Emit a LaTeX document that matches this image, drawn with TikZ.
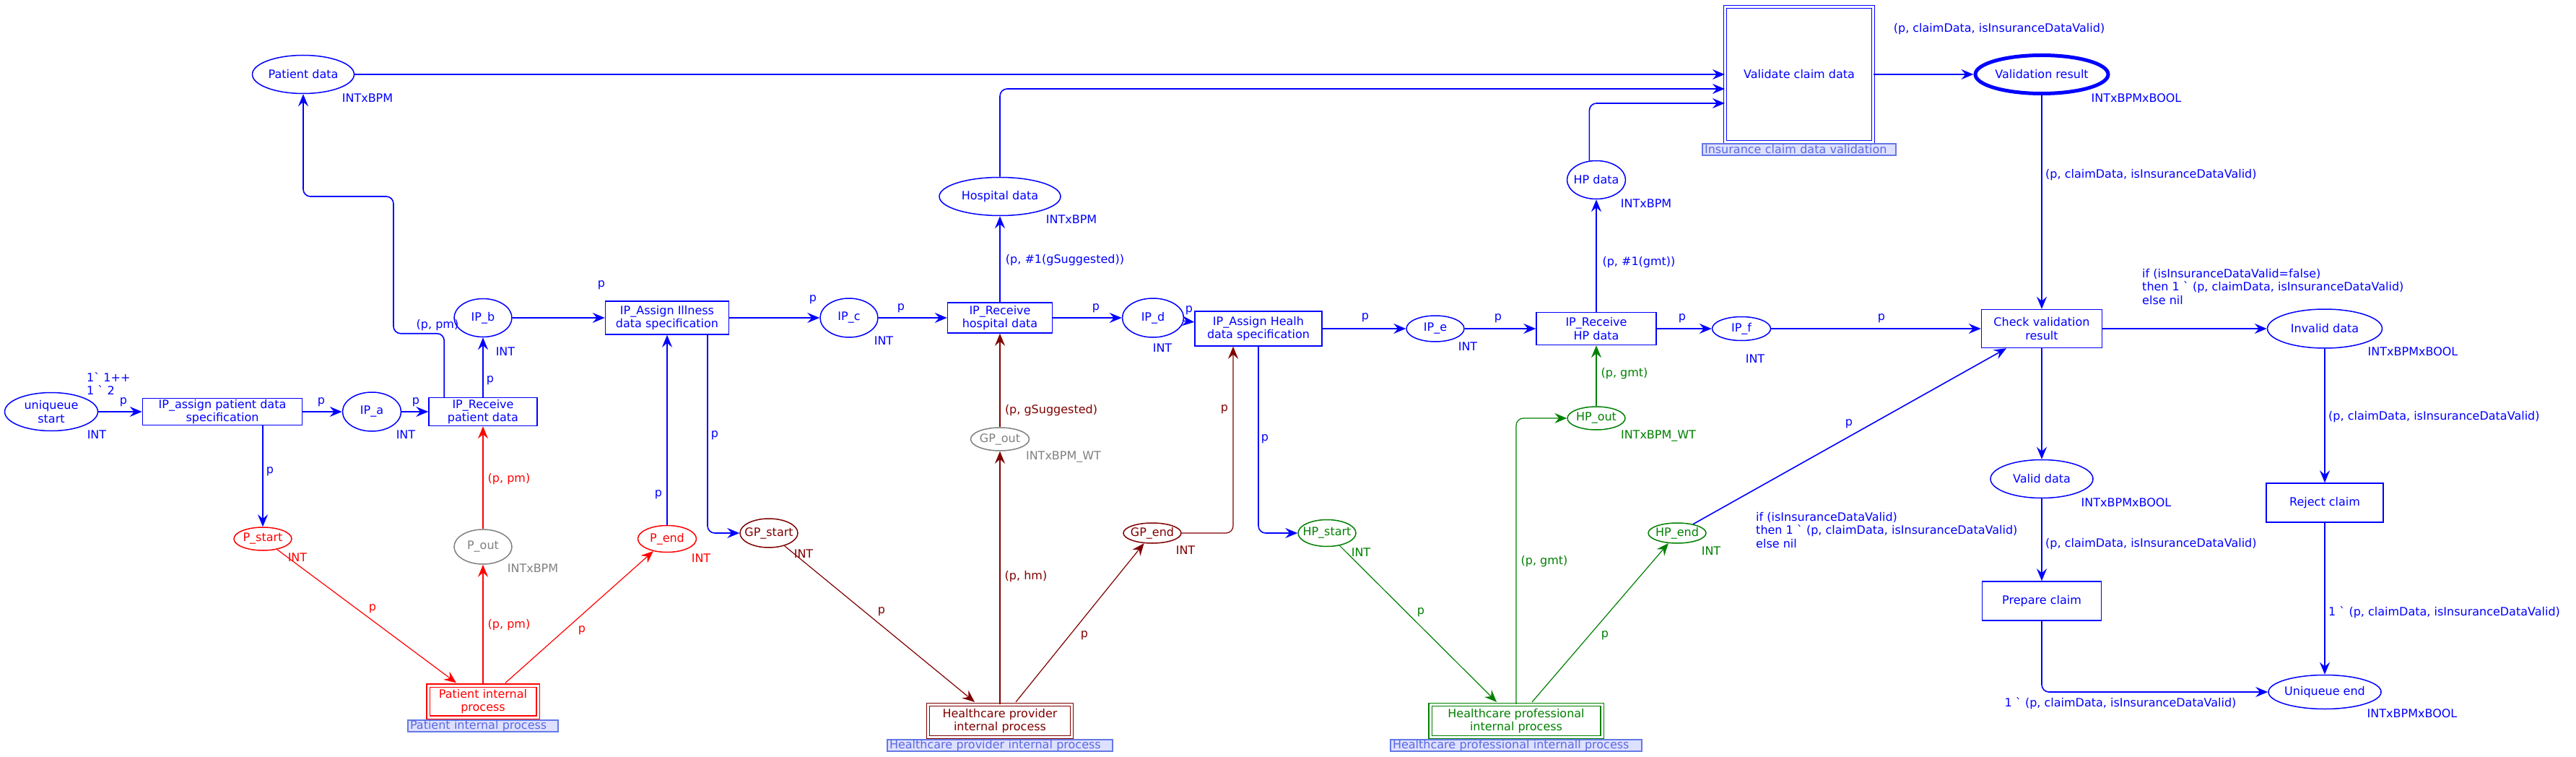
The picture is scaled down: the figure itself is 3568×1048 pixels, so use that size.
\documentclass[tikz,border=0pt]{standalone}
\usepackage{fontspec}
\setmainfont[Ligatures=TeXOff]{DejaVu Sans}
\usepackage{tikz}
\usepackage{xcolor}
\usetikzlibrary{shapes.geometric, arrows.meta}

\definecolor{cpnblue}{RGB}{0,0,255}
\definecolor{cpnred}{RGB}{255,0,0}
\definecolor{cpnmaroon}{RGB}{128,0,0}
\definecolor{cpngreen}{RGB}{0,128,0}
\definecolor{cpngray}{RGB}{128,128,128}
\definecolor{tagfill}{RGB}{222,224,255}
\definecolor{tagline}{RGB}{100,120,230}
\definecolor{tagtext}{RGB}{90,105,225}

\begin{document}
\begin{tikzpicture}[x=1pt, y=-1pt,
    font=\fontsize{16}{18.5}\selectfont,
    >={Stealth[length=17pt, width=14pt, inset=6pt]},
    place/.style={ellipse, draw, line width=1.5pt, inner xsep=-15pt, inner ysep=0pt, align=center},
    trans/.style={rectangle, draw, line width=1.5pt, inner sep=0pt, align=center},
    subst/.style={trans, line width=1.2pt, double, double distance=3pt},
    tag/.style={rectangle, draw=tagline, fill=tagfill, text=tagtext, line width=1.2pt, inner xsep=3pt, inner ysep=0pt, minimum height=16pt, align=left},
    inblue/.style={draw=cpnblue, text=cpnblue},
    inred/.style={draw=cpnred, text=cpnred},
    inmaroon/.style={draw=cpnmaroon, text=cpnmaroon},
    ingreen/.style={draw=cpngreen, text=cpngreen},
    ingray/.style={draw=cpngray, text=cpngray},
    lbl/.style={inner sep=0pt, text=cpnblue},
    arc/.style={->, line width=1.6pt},
    thinarc/.style={->, line width=1.2pt}]
    \fill[white] (0,0) rectangle (3568,1048);
    \useasboundingbox (0,0) rectangle (3568,1048);

    % Patient part
    \node[place, inblue, minimum width=129pt, minimum height=53pt] (ustart) at (71,570) {uniqueue\\start};
    \node[trans, inblue, minimum width=221pt, minimum height=37pt] (tassign) at (308,570) {IP\_assign patient data\\specification};
    \node[place, inblue, minimum width=81pt, minimum height=54pt] (ipa) at (515,570) {IP\_a};
    \node[trans, inblue, minimum width=150pt, minimum height=39pt] (trecvpat) at (669,570) {IP\_Receive\\patient data};
    \node[place, inblue, minimum width=80pt, minimum height=53pt] (ipb) at (669,440) {IP\_b};
    \node[place, inblue, minimum width=141pt, minimum height=53pt] (patdata) at (420,103) {Patient data};
    \node[place, inred, minimum width=80pt, minimum height=32pt] (pstart) at (364,746) {P\_start};
    \node[place, ingray, minimum width=80pt, minimum height=48pt] (pout) at (669,757) {P\_out};
    \node[place, inred, minimum width=81pt, minimum height=37pt] (pend) at (924,746) {P\_end};
    \node[subst, inred, minimum width=152pt, minimum height=44pt] (spip) at (669,971) {Patient internal\\process};
    \node[tag, text width=202pt] (tagpip) at (669,1005) {Patient internal process};

    % Healthcare provider part
    \node[trans, inblue, minimum width=171pt, minimum height=46pt] (tillness) at (924,440) {IP\_Assign Illness\\data specification};
    \node[place, inblue, minimum width=80pt, minimum height=54pt] (ipc) at (1176,440) {IP\_c};
    \node[trans, inblue, minimum width=145pt, minimum height=42pt] (trecvhosp) at (1385,440) {IP\_Receive\\hospital data};
    \node[place, inblue, minimum width=85pt, minimum height=54pt] (ipd) at (1597,440) {IP\_d};
    \node[place, inblue, minimum width=168pt, minimum height=53pt] (hospdata) at (1385,272) {Hospital data};
    \node[place, inmaroon, minimum width=80pt, minimum height=40pt] (gpstart) at (1065,738) {GP\_start};
    \node[place, ingray, minimum width=81pt, minimum height=32pt] (gpout) at (1385,608) {GP\_out};
    \node[place, inmaroon, minimum width=80pt, minimum height=28pt] (gpend) at (1596,738) {GP\_end};
    \node[subst, inmaroon, minimum width=199pt, minimum height=45pt] (shpip) at (1385,998) {Healthcare provider\\internal process};
    \node[tag, text width=306pt] (taghpip) at (1385,1032) {Healthcare provider internal process};

    % Healthcare professional part
    \node[trans, inblue, minimum width=176pt, minimum height=48pt] (thealh) at (1743,455) {IP\_Assign Healh\\data specification};
    \node[place, inblue, minimum width=80pt, minimum height=36pt] (ipe) at (1988,455) {IP\_e};
    \node[trans, inblue, minimum width=166pt, minimum height=45pt] (trecvhp) at (2211,455) {IP\_Receive\\HP data};
    \node[place, inblue, minimum width=81pt, minimum height=53pt] (hpdata) at (2211,249) {HP data};
    \node[place, ingreen, minimum width=80pt, minimum height=37pt] (hpstart) at (1838,738) {HP\_start};
    \node[place, ingreen, minimum width=80pt, minimum height=32pt] (hpout) at (2211,579) {HP\_out};
    \node[place, ingreen, minimum width=80pt, minimum height=28pt] (hpend) at (2323,738) {HP\_end};
    \node[subst, ingreen, minimum width=238pt, minimum height=45pt] (shppip) at (2100,998) {Healthcare professional\\internal process};
    \node[tag, text width=342pt] (tagshppip) at (2100,1032) {Healthcare professional internall process};

    % Insurance part
    \node[place, inblue, minimum width=81pt, minimum height=33pt] (ipf) at (2412,455) {IP\_f};
    \node[subst, inblue, minimum width=205pt, minimum height=187pt] (svalidate) at (2492,103) {Validate claim data};
    \node[tag, text width=262pt] (tagval) at (2492,207) {Insurance claim data validation};
    \node[place, inblue, line width=5pt, minimum width=184pt, minimum height=53pt] (valres) at (2828,103) {Validation result};
    \node[trans, inblue, minimum width=167pt, minimum height=53pt] (tcheck) at (2828,455) {Check validation\\result};
    \node[place, inblue, minimum width=159pt, minimum height=54pt] (invalid) at (3220,455) {Invalid data};
    \node[place, inblue, minimum width=142pt, minimum height=53pt] (valid) at (2828,663) {Valid data};
    \node[trans, inblue, minimum width=165pt, minimum height=54pt] (tprepare) at (2828,832) {Prepare claim};
    \node[trans, inblue, minimum width=162pt, minimum height=54pt] (treject) at (3220,696) {Reject claim};
    \node[place, inblue, minimum width=156pt, minimum height=47pt] (uend) at (3220,958) {Uniqueue end};

    % inscriptions
    \node[lbl, anchor=west, align=left] (mk) at (120,531) {1` 1++\\1 ` 2};
    \node[lbl] (i01) at (171,557) {p};
    \node[lbl] (i02) at (134,602) {INT};
    \node[lbl] (i03) at (445,557) {p};
    \node[lbl] (i04) at (562,602) {INT};
    \node[lbl] (i05) at (576,557) {p};
    \node[lbl] (i06) at (679,527) {p};
    \node[lbl] (i07) at (700,487) {INT};
    \node[lbl] (i08) at (606,450) {(p, pm)};
    \node[lbl] (i09) at (509,136) {INTxBPM};
    \node[lbl] (i10) at (374,653) {p};
    \node[lbl] (i11) at (833,395) {p};
    \node[lbl] (i12) at (912,685) {p};
    \node[lbl] (i13) at (990,603) {p};
    \node[lbl] (i14) at (1126,415) {p};
    \node[lbl] (i15) at (1224,472) {INT};
    \node[lbl] (i16) at (1248,427) {p};
    \node[lbl] (i17) at (1518,427) {p};
    \node[lbl] (i18) at (1610,482) {INT};
    \node[lbl] (i19) at (1475,360) {(p, \#1(gSuggested))};
    \node[lbl] (i20) at (1484,304) {INTxBPM};
    \node[lbl] (i21) at (1647,430) {p};
    \node[lbl] (i22) at (1891,440) {p};
    \node[lbl] (i23) at (2033,480) {INT};
    \node[lbl] (i24) at (2075,441) {p};
    \node[lbl] (i25) at (2330,441) {p};
    \node[lbl] (i26) at (1752,608) {p};
    \node[lbl] (i27) at (2270,363) {(p, \#1(gmt))};
    \node[lbl] (i28) at (2280,282) {INTxBPM};
    \node[lbl] (i29) at (2606,441) {p};
    \node[lbl] (i30) at (2431,497) {INT};
    \node[lbl] (i31) at (2561,587) {p};
    \node[lbl] (i32) at (2769,40) {(p, claimData, isInsuranceDataValid)};
    \node[lbl] (i33) at (2959,136) {INTxBPMxBOOL};
    \node[lbl, anchor=west] (i34) at (2833,242) {(p, claimData, isInsuranceDataValid)};
    \node[lbl, anchor=west, align=left] (i35) at (2967,397) {if (isInsuranceDataValid=false)\\then 1 ` (p, claimData, isInsuranceDataValid)\\else nil};
    \node[lbl] (i36) at (3342,487) {INTxBPMxBOOL};
    \node[lbl, anchor=west] (i37) at (3225,577) {(p, claimData, isInsuranceDataValid)};
    \node[lbl, anchor=west] (i38) at (3225,848) {1 ` (p, claimData, isInsuranceDataValid)};
    \node[lbl] (i39) at (3341,988) {INTxBPMxBOOL};
    \node[lbl] (i40) at (2945,696) {INTxBPMxBOOL};
    \node[lbl, anchor=west] (i41) at (2833,753) {(p, claimData, isInsuranceDataValid)};
    \node[lbl] (i42) at (2937,974) {1 ` (p, claimData, isInsuranceDataValid)};
    \node[lbl, anchor=west, align=left] (i43) at (2432,734) {if (isInsuranceDataValid)\\then 1 ` (p, claimData, isInsuranceDataValid)\\else nil};
    \node[lbl, text=cpnred] (r01) at (705,663) {(p, pm)};
    \node[lbl, text=cpnred] (r02) at (412,772) {INT};
    \node[lbl, text=cpnred] (r03) at (516,843) {p};
    \node[lbl, text=cpnred] (r04) at (705,865) {(p, pm)};
    \node[lbl, text=cpnred] (r05) at (971,773) {INT};
    \node[lbl, text=cpnred] (r06) at (806,873) {p};
    \node[lbl, text=cpngray] (g01) at (738,787) {INTxBPM};
    \node[lbl, text=cpngray] (g02) at (1473,633) {INTxBPM\_WT};
    \node[lbl, text=cpnmaroon] (m01) at (1456,568) {(p, gSuggested)};
    \node[lbl, text=cpnmaroon] (m02) at (1113,767) {INT};
    \node[lbl, text=cpnmaroon] (m03) at (1221,847) {p};
    \node[lbl, text=cpnmaroon] (m04) at (1421,798) {(p, hm)};
    \node[lbl, text=cpnmaroon] (m05) at (1502,880) {p};
    \node[lbl, text=cpnmaroon] (m06) at (1642,762) {INT};
    \node[lbl, text=cpnmaroon] (m07) at (1696,567) {p};
    \node[lbl, text=cpngreen] (e01) at (1885,765) {INT};
    \node[lbl, text=cpngreen] (e02) at (1968,848) {p};
    \node[lbl, text=cpngreen] (e03) at (2139,777) {(p, gmt)};
    \node[lbl, text=cpngreen] (e04) at (2223,880) {p};
    \node[lbl, text=cpngreen] (e05) at (2370,763) {INT};
    \node[lbl, text=cpngreen] (e06) at (2250,517) {(p, gmt)};
    \node[lbl, text=cpngreen] (e07) at (2297,604) {INTxBPM\_WT};

    % main flow
    \draw[arc, cpnblue] (ustart) -- (tassign);
    \draw[arc, cpnblue] (tassign) -- (ipa);
    \draw[arc, cpnblue] (ipa) -- (trecvpat);
    \draw[arc, cpnblue] (trecvpat) -- (ipb);
    \draw[arc, cpnblue] (ipb) -- (tillness);
    \draw[arc, cpnblue] (tillness) -- (ipc);
    \draw[arc, cpnblue] (ipc) -- (trecvhosp);
    \draw[arc, cpnblue] (trecvhosp) -- (ipd);
    \draw[arc, cpnblue] (trecvhosp) -- (hospdata);
    \draw[arc, cpnblue] (ipd) -- (thealh);
    \draw[arc, cpnblue] (thealh) -- (ipe);
    \draw[arc, cpnblue] (ipe) -- (trecvhp);
    \draw[arc, cpnblue] (trecvhp) -- (ipf);
    \draw[arc, cpnblue] (ipf) -- (tcheck);
    \draw[arc, cpnblue] (tcheck) -- (invalid);
    \draw[arc, cpnblue] (tcheck) -- (valid);
    \draw[arc, cpnblue] (valid) -- (tprepare);
    \draw[arc, cpnblue, rounded corners=10pt] (tprepare) |- (uend);
    \draw[arc, cpnblue] (invalid) -- (treject);
    \draw[arc, cpnblue] (treject) -- (uend);
    \draw[arc, cpnblue] (valres) -- (tcheck);
    \draw[arc, cpnblue] (svalidate) -- (valres);
    \draw[arc, cpnblue] (patdata) -- (svalidate);
    \draw[arc, cpnblue, rounded corners=10pt] (hospdata) |- ([yshift=-20pt]svalidate.west);
    \draw[arc, cpnblue, rounded corners=10pt] (hpdata.110) |- ([yshift=-40pt]svalidate.west);
    \draw[arc, cpnblue, rounded corners=10pt] ([xshift=22pt]trecvpat.north west) -- ++(0,-88) -| (545,272) -| (patdata);
    \draw[arc, cpnblue] (pstart |- tassign.south) -- (pstart);
    \draw[arc, cpnblue] (pend) -- (tillness);
    \draw[arc, cpnblue, rounded corners=10pt] ([xshift=56pt]tillness.south) |- (gpstart);
    \draw[arc, cpnblue, rounded corners=10pt] (thealh) |- (hpstart);
    \draw[arc, cpnblue] (trecvhp) -- (hpdata);
    \draw[arc, cpnblue] (hpend) -- ([xshift=-49pt]tcheck.south);

    % patient internal process
    \draw[thinarc, cpnred] (pstart) -- ([xshift=-37pt,yshift=3pt]spip.north);
    \draw[thinarc, cpnred] (spip) -- (pout);
    \draw[thinarc, cpnred] (pout) -- (trecvpat);
    \draw[thinarc, cpnred] ([xshift=31pt,yshift=3pt]spip.north) -- (pend);

    % healthcare provider internal process
    \draw[thinarc, cpnmaroon] (gpstart) -- ([xshift=-35pt,yshift=3pt]shpip.north);
    \draw[thinarc, cpnmaroon] (shpip) -- (gpout);
    \draw[thinarc, cpnmaroon] (gpout) -- (trecvhosp);
    \draw[thinarc, cpnmaroon] ([xshift=22pt,yshift=3pt]shpip.north) -- (gpend);
    \draw[thinarc, cpnmaroon, rounded corners=10pt] (gpend) -| ([xshift=-35pt]thealh.south);

    % healthcare professional internal process
    \draw[thinarc, cpngreen] (hpstart) -- ([xshift=-27pt,yshift=3pt]shppip.north);
    \draw[thinarc, cpngreen, rounded corners=10pt] (shppip) |- (hpout);
    \draw[thinarc, cpngreen] (hpout) -- (trecvhp);
    \draw[thinarc, cpngreen] ([xshift=22pt,yshift=3pt]shppip.north) -- (hpend);
\end{tikzpicture}
\end{document}
